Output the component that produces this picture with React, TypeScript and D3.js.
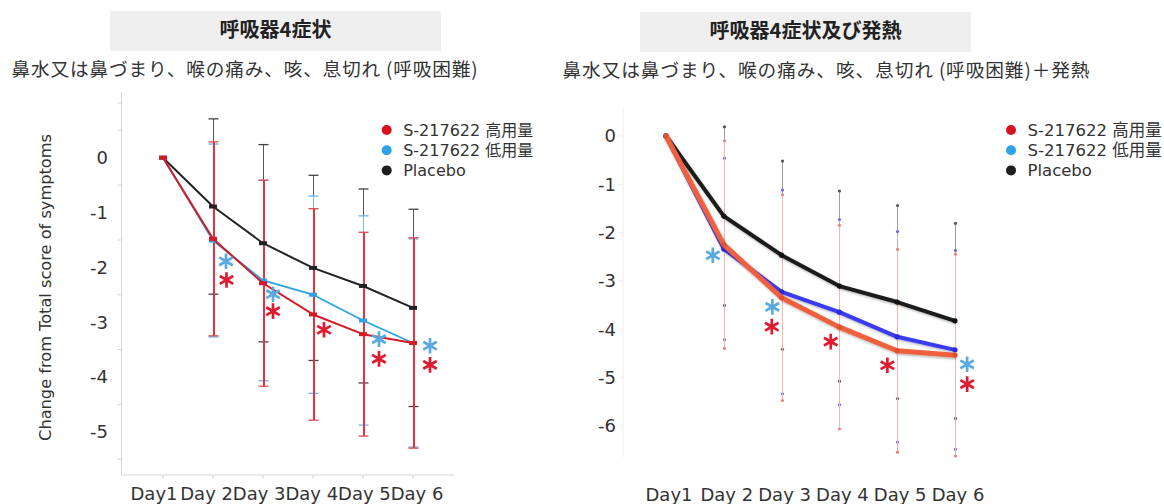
import React, { useEffect, useRef } from "react";
import * as d3 from "d3";

const W = 1164;
const H = 504;

const days = ["Day1", "Day 2", "Day 3", "Day 4", "Day 5", "Day 6"];
const seriesNames = ["S-217622 高用量", "S-217622 低用量", "Placebo"];

// 呼吸器4症状 (left panel): mean change and SD
const leftHigh = [0, -1.48, -2.29, -2.86, -3.22, -3.38];
const leftHighSd = [0, 1.77, 1.88, 1.93, 1.86, 1.92];
const leftLow = [0, -1.51, -2.24, -2.5, -2.97, -3.38];
const leftLowSd = [0, 1.76, 1.83, 1.8, 1.91, 1.9];
const leftPlacebo = [0, -0.89, -1.56, -2.01, -2.34, -2.74];
const leftPlaceboSd = [0, 1.6, 1.8, 1.69, 1.77, 1.8];

// 呼吸器4症状及び発熱 (right panel)
const rightHigh = [0, -2.25, -3.35, -3.96, -4.45, -4.54];
const rightHighSd = [0, 2.15, 2.13, 2.11, 2.1, 2.09];
const rightLow = [0, -2.34, -3.23, -3.65, -4.16, -4.43];
const rightLowSd = [0, 1.88, 2.11, 1.92, 2.18, 2.06];
const rightPlacebo = [0, -1.66, -2.47, -3.11, -3.44, -3.83];
const rightPlaceboSd = [0, 1.85, 1.95, 1.97, 2.0, 2.02];

// significance marks: day index, offset in day units, value
const leftSigLow = [
  { d: 1, off: 0.26, v: -1.89 },
  { d: 2, off: 0.2, v: -2.49 },
  { d: 4, off: 0.32, v: -3.31 },
  { d: 5, off: 0.34, v: -3.43 },
];
const leftSigHigh = [
  { d: 1, off: 0.27, v: -2.23 },
  { d: 2, off: 0.2, v: -2.8 },
  { d: 3, off: 0.22, v: -3.14 },
  { d: 4, off: 0.32, v: -3.67 },
  { d: 5, off: 0.34, v: -3.78 },
];
const rightSigLow = [
  { d: 1, off: -0.19, v: -2.47 },
  { d: 2, off: -0.16, v: -3.54 },
  { d: 5, off: 0.21, v: -4.73 },
];
const rightSigHigh = [
  { d: 2, off: -0.17, v: -3.95 },
  { d: 3, off: -0.15, v: -4.26 },
  { d: 4, off: -0.17, v: -4.75 },
  { d: 5, off: 0.21, v: -5.14 },
];

const leftYLabels = [0, -1, -2, -3, -4, -5];
const leftYTicks = [1, 0.5, -0.5, -1.5, -2.5, -3.5, -4.5, -5.5];
const rightYLabels = [0, -1, -2, -3, -4, -5, -6];

const CJK = "'Noto Sans CJK JP', sans-serif";
const LATIN = "'DejaVu Sans', 'Noto Sans CJK JP', sans-serif";

function asterisk(r: number) {
  const p = d3.path();
  for (let k = 0; k < 3; k++) {
    const a = Math.PI / 2 + (k * Math.PI) / 3;
    p.moveTo(r * Math.cos(a), r * Math.sin(a));
    p.lineTo(-r * Math.cos(a), -r * Math.sin(a));
  }
  return p.toString();
}

function drawPanel(svg: any, o: any) {
  const x = d3.scalePoint<string>().domain(days).range(o.xRange);
  const step = x.step();
  const y = d3.scaleLinear().domain(o.yDomain).range(o.yRange);
  const g = svg.append("g");

  // heading box + subtitle
  g.append("rect")
    .attr("x", o.box[0]).attr("y", o.box[1])
    .attr("width", o.box[2]).attr("height", o.box[3])
    .attr("fill", "#efefef");
  g.append("text")
    .attr("x", o.box[0] + o.box[2] / 2).attr("y", o.box[1] + 26)
    .attr("text-anchor", "middle")
    .attr("font-family", CJK).attr("font-weight", 700).attr("font-size", 20)
    .attr("fill", "#222")
    .text(o.title);
  g.append("text")
    .attr("x", o.sub[0]).attr("y", o.sub[1])
    .attr("font-family", CJK).attr("font-size", 18.7).attr("fill", "#333")
    .attr("textLength", o.sub[2]).attr("lengthAdjust", "spacing")
    .text(o.subtitle);

  // axes
  const ax = o.axisX;
  g.append("line")
    .attr("x1", ax).attr("x2", ax)
    .attr("y1", o.yRange[0]).attr("y2", o.yRange[1])
    .attr("stroke", o.axisColor);
  o.yTicks.forEach((t: number) => {
    g.append("line")
      .attr("x1", ax - 4).attr("x2", ax)
      .attr("y1", y(t)).attr("y2", y(t))
      .attr("stroke", o.axisColor);
  });
  if (o.xAxis) {
    g.append("line")
      .attr("x1", ax).attr("x2", o.xAxis)
      .attr("y1", o.yRange[1]).attr("y2", o.yRange[1])
      .attr("stroke", o.axisColor);
    days.forEach((d) => {
      g.append("line")
        .attr("x1", x(d)).attr("x2", x(d))
        .attr("y1", o.yRange[1]).attr("y2", o.yRange[1] + 4)
        .attr("stroke", o.axisColor);
    });
  }
  o.yLabels.forEach((t: number) => {
    g.append("text")
      .attr("x", o.labelX).attr("y", y(t)).attr("dy", "0.36em")
      .attr("text-anchor", "end")
      .attr("font-family", LATIN).attr("font-size", 18).attr("fill", "#333")
      .text(String(t));
  });
  const lx = d3.scalePoint<string>().domain(days).range(o.labelRange);
  days.forEach((d) => {
    g.append("text")
      .attr("x", lx(d)).attr("y", o.xLabelY)
      .attr("text-anchor", "middle")
      .attr("font-family", LATIN).attr("font-size", 18).attr("fill", "#333")
      .text(d);
  });
  if (o.yTitle) {
    g.append("text")
      .attr("transform", `translate(${o.yTitle[0]},${o.yTitle[1]}) rotate(-90)`)
      .attr("text-anchor", "middle")
      .attr("font-family", LATIN).attr("font-size", 16.2).attr("fill", "#333")
      .text("Change from Total score of symptoms");
  }

  // error bars
  o.series.forEach((s: any) => {
    s.values.forEach((v: number, i: number) => {
      if (i === 0) return;
      const cx = Math.round(x(days[i]) as number) + 0.5;
      const top = y(v + s.sd[i]);
      const bot = y(v - s.sd[i]);
      g.append("line")
        .attr("x1", cx).attr("x2", cx).attr("y1", top).attr("y2", bot)
        .attr("stroke", s.errColor).attr("stroke-width", s.errWidth)
        .attr("shape-rendering", "crispEdges");
      [top, bot].forEach((yy) => {
        if (o.caps) {
          g.append("line")
            .attr("x1", cx - 5).attr("x2", cx + 5).attr("y1", yy).attr("y2", yy)
            .attr("stroke", s.capColor).attr("stroke-width", 1.3);
        } else {
          g.append("circle").attr("cx", cx).attr("cy", yy).attr("r", 1.6)
            .attr("fill", s.capColor);
        }
      });
    });
  });

  // lines + markers
  const line = d3.line<number>()
    .x((_, i) => x(days[i]) as number)
    .y((v) => y(v));
  o.series.forEach((s: any) => {
    g.append("path")
      .attr("d", line(s.values))
      .attr("fill", "none")
      .attr("stroke", s.color)
      .attr("stroke-width", s.width)
      .attr("stroke-linejoin", "round")
      .attr("filter", o.shadow ? "url(#shadow)" : null);
    s.values.forEach((v: number, i: number) => {
      const cx = x(days[i]) as number;
      if (o.caps) {
        g.append("rect")
          .attr("x", cx - 4).attr("y", y(v) - 2).attr("width", 8).attr("height", 4)
          .attr("fill", s.color);
      } else {
        g.append("circle").attr("cx", cx).attr("cy", y(v)).attr("r", 2.6)
          .attr("fill", s.marker);
      }
    });
  });

  // asterisks
  const ast = asterisk(7.8);
  o.sigs.forEach((sg: any) => {
    sg.items.forEach((a: any) => {
      g.append("path")
        .attr("d", ast)
        .attr("transform", `translate(${(x(days[a.d]) as number) + a.off * step},${y(a.v)})`)
        .attr("stroke", sg.color).attr("stroke-width", 2.7).attr("fill", "none");
    });
  });

  // legend
  const legendColors = ["#d6141f", "#2fa3e6", "#1e1e1e"];
  seriesNames.forEach((n, i) => {
    const yy = o.legend[1] + i * 20.2;
    g.append("circle").attr("cx", o.legend[0]).attr("cy", yy).attr("r", 5)
      .attr("fill", legendColors[i]);
    g.append("text")
      .attr("x", o.legend[0] + 16.5).attr("y", yy + 5.8)
      .attr("font-family", LATIN).attr("font-size", o.legendSize).attr("fill", "#333")
      .text(n);
  });
}

export default function App() {
  const ref = useRef<SVGSVGElement>(null);

  useEffect(() => {
    const svg = d3.select(ref.current);
    svg.selectAll("*").remove();

    const defs = svg.append("defs");
    defs.append("filter").attr("id", "shadow")
      .attr("x", "-5%").attr("y", "-5%").attr("width", "110%").attr("height", "110%")
      .append("feDropShadow")
      .attr("dx", 1).attr("dy", 1.5).attr("stdDeviation", 1.2)
      .attr("flood-color", "#000").attr("flood-opacity", 0.3);

    drawPanel(svg, {
      title: "呼吸器4症状",
      subtitle: "鼻水又は鼻づまり、喉の痛み、咳、息切れ (呼吸困難)",
      box: [110, 11, 331, 40],
      sub: [11.5, 76, 466],
      xRange: [163, 413],
      yDomain: [1.2, -5.79],
      yRange: [92, 475],
      axisX: 121.5,
      axisColor: "#d6d6d6",
      xAxis: 454,
      yTicks: leftYTicks,
      yLabels: leftYLabels,
      labelX: 108,
      labelRange: [154, 417],
      xLabelY: 500,
      yTitle: [51, 287.5],
      caps: true,
      shadow: false,
      legendSize: 16,
      series: [
        { values: leftPlacebo, sd: leftPlaceboSd, color: "#222", width: 2, errColor: "#555", errWidth: 1, capColor: "#444" },
        { values: leftLow, sd: leftLowSd, color: "#2ba3e4", width: 1.8, errColor: "#6cc0ee", errWidth: 1, capColor: "#62b8ea" },
        { values: leftHigh, sd: leftHighSd, color: "#d31a26", width: 2, errColor: "#e2343f", errWidth: 2, capColor: "#e04a52" },
      ],
      sigs: [
        { items: leftSigLow, color: "#5aaae2" },
        { items: leftSigHigh, color: "#e01b2f" },
      ],
      legend: [386.7, 130],
    });

    drawPanel(svg, {
      title: "呼吸器4症状及び発熱",
      subtitle: "鼻水又は鼻づまり、喉の痛み、咳、息切れ (呼吸困難)＋発熱",
      box: [640, 12, 331, 40],
      sub: [562.5, 77, 527],
      xRange: [666, 955],
      yDomain: [0.6, -6.65],
      yRange: [107, 457],
      axisX: 623,
      axisColor: "#ededed",
      xAxis: null,
      yTicks: rightYLabels,
      yLabels: rightYLabels,
      labelX: 616,
      labelRange: [669, 958],
      xLabelY: 501,
      yTitle: null,
      caps: false,
      shadow: true,
      legendSize: 16.5,
      series: [
        { values: rightPlacebo, sd: rightPlaceboSd, color: "#1b1b1b", width: 4, errColor: "#a0a0a0", errWidth: 1, capColor: "#555", marker: "#111" },
        { values: rightLow, sd: rightLowSd, color: "#3a3af2", width: 4, errColor: "#b0b0f0", errWidth: 1, capColor: "#6a6ae8", marker: "#2a2ad8" },
        { values: rightHigh, sd: rightHighSd, color: "#f0603c", width: 5, errColor: "#f4b4b4", errWidth: 1, capColor: "#ee8080", marker: "#e0502c" },
      ],
      sigs: [
        { items: rightSigLow, color: "#5aaae2" },
        { items: rightSigHigh, color: "#e01b2f" },
      ],
      legend: [1011, 130],
    });
  }, []);

  return (
    <svg
      ref={ref}
      width={W}
      height={H}
      style={{ position: "absolute", left: 0, top: 0, background: "#fff" }}
    />
  );
}
